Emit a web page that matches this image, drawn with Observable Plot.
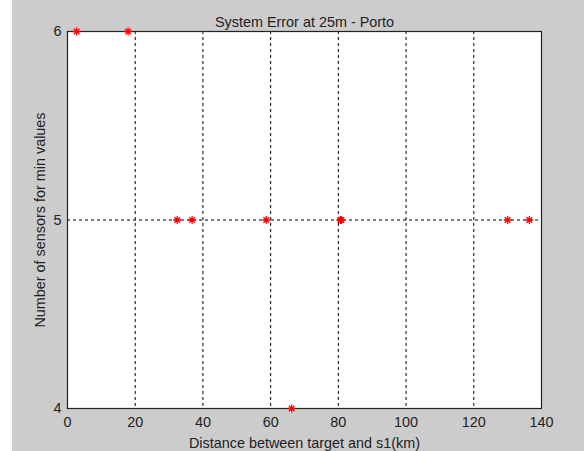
<!DOCTYPE html>
<html>
<head>
<meta charset="utf-8">
<script src="https://cdn.jsdelivr.net/npm/d3@7"></script>
<script src="https://cdn.jsdelivr.net/npm/@observablehq/plot@0.6"></script>
<style>
  html, body { margin: 0; padding: 0; background: #ffffff; }
  #chart { width: 584px; height: 451px; }
</style>
</head>
<body>
<div id="chart"></div>
<script>
const title = "System Error at 25m - Porto";
const xLabel = "Distance between target and s1(km)";
const yLabel = "Number of sensors for min values";

const distances = [2.7, 17.9, 32.4, 36.8, 58.7, 80.6, 80.9, 130.0, 136.4, 66.2];
const sensors   = [6,   6,    5,    5,    5,    5,    5,    5,     5,     4];

const xTicks = [0, 20, 40, 60, 80, 100, 120, 140];
const yTicks = [4, 5, 6];
const xGrid = [20, 40, 60, 80, 100, 120];
const yGrid = [5];

const points = distances.map((d, i) => ({distance: d, sensors: sensors[i]}));

// MATLAB-style 8-arm asterisk
const asterisk = {
  draw(context, size) {
    const r = Math.sqrt(size / Math.PI);
    const d = r * Math.SQRT1_2;
    context.moveTo(0, -r); context.lineTo(0, r);
    context.moveTo(-r, 0); context.lineTo(r, 0);
    context.moveTo(-d, -d); context.lineTo(d, d);
    context.moveTo(-d, d); context.lineTo(d, -d);
  }
};

const font = "'Liberation Sans', Arial, sans-serif";
const fs = 14.4;

const chart = Plot.plot({
  width: 584,
  height: 451,
  marginLeft: 67,
  marginRight: 43,
  marginTop: 31,
  marginBottom: 43,
  style: {
    background: "linear-gradient(to right, #ffffff 12px, #cccccc 12px)",
    fontFamily: font,
    fontSize: fs + "px",
    color: "#222222",
    overflow: "visible"
  },
  x: {domain: [0, 140]},
  y: {domain: [4, 6]},
  marks: [
    Plot.frame({fill: "white", stroke: null}),
    Plot.gridX(xGrid, {stroke: "#000", strokeOpacity: 1, strokeWidth: 1, strokeDasharray: "3,3"}),
    Plot.gridY(yGrid, {stroke: "#000", strokeOpacity: 1, strokeWidth: 1, strokeDasharray: "3,3"}),
    Plot.frame({stroke: "#222222", strokeWidth: 1.2}),
    Plot.axisX(xTicks, {
      tickSize: 0, tickPadding: 8, fontSize: fs,
      tickFormat: d => String(d),
      label: xLabel, labelAnchor: "center", labelArrow: "none", labelOffset: 39
    }),
    Plot.axisY(yTicks, {
      tickSize: 0, tickPadding: 6, fontSize: fs,
      tickFormat: d => String(d),
      label: yLabel, labelAnchor: "center", labelArrow: "none", labelOffset: 33
    }),
    Plot.text([title], {frameAnchor: "top", dy: -14.5, fontSize: fs, fill: "#222222"}),
    Plot.dot(points, {x: "distance", y: "sensors", symbol: asterisk, r: 4, stroke: "#ff0000", strokeWidth: 1.3, fill: "none"})
  ]
});
document.getElementById("chart").appendChild(chart);
</script>
</body>
</html>
